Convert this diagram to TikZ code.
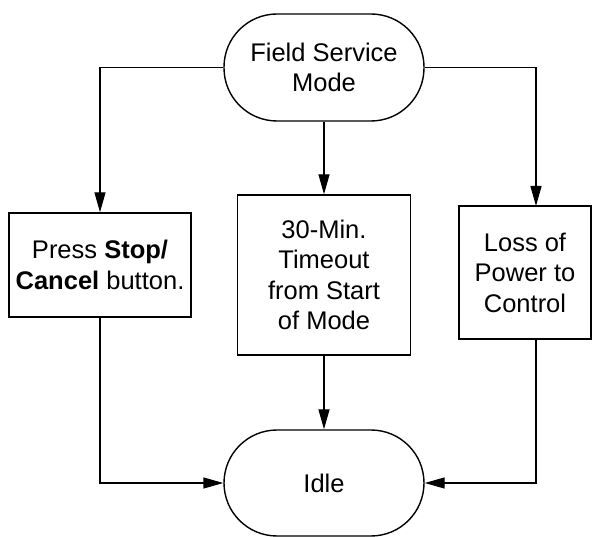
\documentclass[tikz,border=0pt]{standalone}
\usepackage{fontspec}
\setmainfont{Liberation Sans}
\usetikzlibrary{arrows.meta}
\begin{document}
\begin{tikzpicture}[x=1pt,y=-1pt,
  base/.style={draw=black, line width=1.4pt, align=center, font=\fontsize{25.5}{30.5}\selectfont, inner sep=0pt},
  stadium/.style={base, rounded corners=53pt, minimum width=200pt, minimum height=107pt},
  procbox/.style={base},
  conn/.style={line width=1.4pt, -{Triangle[length=20pt,width=11pt]}}]
\useasboundingbox (0,0) rectangle (595,537);
\node[stadium] (fsm) at (324,67.5) {Field Service\\Mode};
\node[procbox, minimum width=182pt, minimum height=104pt] (lbox) at (100,265) {Press \textbf{Stop/}\\\textbf{Cancel} button.};
\node[procbox, minimum width=173pt, minimum height=160pt] (mbox) at (324,275) {30-Min.\\Timeout\\from Start\\of Mode};
\node[procbox, minimum width=132pt, minimum height=133pt] (rbox) at (525,272.5) {Loss of\\Power to\\Control};
\node[stadium, minimum height=106pt] (idle) at (324,483) {Idle};
\coordinate (rtop) at (536,206);
\draw[conn] (fsm.west) -| (lbox.north);
\draw[conn] (fsm.south) -- (mbox.north);
\draw[conn] (fsm.east) -| (rtop);
\draw[conn] (lbox.south) |- (idle.west);
\draw[conn] (mbox.south) -- (idle.north);
\draw[conn] (rbox.south -| rtop) |- (idle.east);
\end{tikzpicture}
\end{document}
